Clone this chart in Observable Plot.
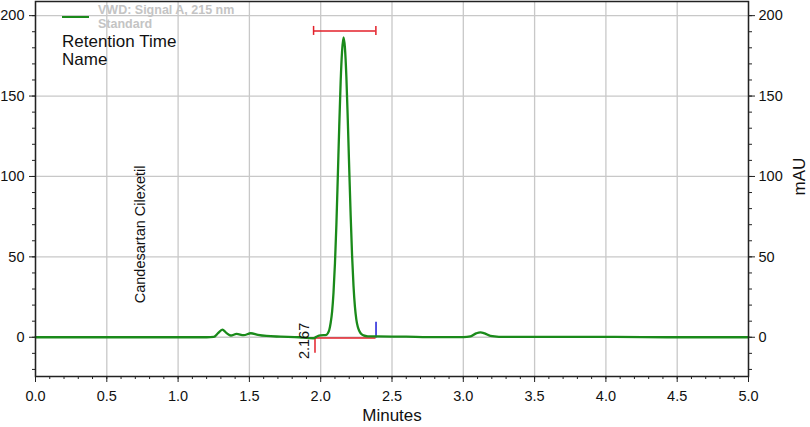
<!DOCTYPE html>
<html><head><meta charset="utf-8">
<script src="https://cdn.jsdelivr.net/npm/d3@7"></script>
<script src="https://cdn.jsdelivr.net/npm/@observablehq/plot@0.6"></script>
<style>
body{margin:0;background:#fff;font-family:"Liberation Sans",Arial,sans-serif;}
#wrap{position:relative;width:810px;height:427px;overflow:hidden;}
.lg{position:absolute;white-space:nowrap;}
</style></head><body><div id="wrap"></div>
<script>
// Chromatogram trace (minutes, mAU)
const times  = [0.00,0.50,1.00,1.20,1.25,1.28,1.31,1.34,1.37,1.41,1.46,1.51,1.56,1.62,1.72,1.85,1.92,1.95,1.98,2.00,2.04,2.05,2.06,2.07,2.08,2.09,2.10,2.11,2.12,2.13,2.14,2.15,2.16,2.17,2.18,2.19,2.20,2.21,2.22,2.23,2.24,2.25,2.26,2.27,2.28,2.30,2.33,2.40,2.60,2.75,3.00,3.05,3.09,3.12,3.15,3.19,3.25,3.50,4.00,4.50,5.00];
const signal = [0,0,0,0,0.2,2.5,4.8,2.6,1.1,2.1,1.3,2.5,1.5,0.8,0.4,0,-0.5,-0.6,0.8,1.2,1.5,2.5,4.5,9,16,28,46,70,100,131,159,178,186.5,180,162,135,105,76,51,32,19,11,6.5,4,2.5,1.2,0.6,0.5,0.4,0.1,0.1,0.5,2.4,3.1,2.4,0.8,0.3,0.2,0.2,0,0];

// Peak annotation
const peakRT = [2.167];
const peakBaseStart = [1.96];
const peakBaseEnd = [2.388];
const peakBaseLevel = [-0.4];
const startMarkerLow = [-10];
const endMarkerHigh = [9.3];
const windowStart = [1.95];
const windowEnd = [2.387];
const windowLevel = [190.5];
const windowCap = [2.8];

// Compound name label
const compoundNames = ["Candesartan Cilexetil"];
const nameTime = [0.734];
const nameLevel = [64];

// Ticks
const xMajor = [0,0.5,1,1.5,2,2.5,3,3.5,4,4.5,5];
const xMinor = [0,0.1,0.2,0.3,0.4,0.5,0.6,0.7,0.8,0.9,1,1.1,1.2,1.3,1.4,1.5,1.6,1.7,1.8,1.9,2,2.1,2.2,2.3,2.4,2.5,2.6,2.7,2.8,2.9,3,3.1,3.2,3.3,3.4,3.5,3.6,3.7,3.8,3.9,4,4.1,4.2,4.3,4.4,4.5,4.6,4.7,4.8,4.9,5];
const yMajor = [0,50,100,150,200];
const yMinor = [-20,-10,0,10,20,30,40,50,60,70,80,90,100,110,120,130,140,150,160,170,180,190,200];

const xLabel = "Minutes";
const yLabel = "mAU";
const legendSignal = ["VWD: Signal A, 215 nm", "Standard"];
const legendFields = ["Retention Time", "Name"];

const trace = times.map((t, i) => ({t, v: signal[i]}));
const peaks = peakRT.map((rt, i) => ({
  rt, s: peakBaseStart[i], e: peakBaseEnd[i], b: peakBaseLevel[i],
  lo: startMarkerLow[i], hi: endMarkerHigh[i],
  ws: windowStart[i], we: windowEnd[i], wl: windowLevel[i], wc: windowCap[i]
}));
const names = compoundNames.map((n, i) => ({n, t: nameTime[i], y: nameLevel[i]}));

const green = "#1a8a1a", red = "#e3202a", blue = "#1c1cd8";

const chart = Plot.plot({
  width: 810, height: 427,
  marginLeft: 35, marginRight: 62, marginTop: 1, marginBottom: 51,
  x: {domain: [0, 5]},
  y: {domain: [-24.4, 208.8]},
  style: {fontFamily: "'Liberation Sans', Arial, sans-serif", fontSize: "14.5px", color: "#222", background: "#fff"},
  marks: [
    Plot.gridX(xMajor, {stroke: "#c8c8c8", strokeOpacity: 1, strokeWidth: 1.3}),
    Plot.gridY(yMajor, {stroke: "#c8c8c8", strokeOpacity: 1, strokeWidth: 1.3}),
    Plot.axisX(xMajor, {tickSize: 6, tickPadding: 8, tickFormat: d3.format(".1f"), label: null, stroke: "#222", fill: "#111"}),
    Plot.axisX(xMinor, {tickSize: 3, tickFormat: () => "", label: null, stroke: "#222"}),
    Plot.axisY(yMajor, {anchor: "left", tickSize: 6, tickPadding: 5, label: null, stroke: "#222", fill: "#111"}),
    Plot.axisY(yMinor, {anchor: "left", tickSize: 3, tickFormat: () => "", label: null, stroke: "#222"}),
    Plot.axisY(yMajor, {anchor: "right", tickSize: 6, tickPadding: 4, label: null, stroke: "#222", fill: "#111"}),
    Plot.axisY(yMinor, {anchor: "right", tickSize: 3, tickFormat: () => "", label: null, stroke: "#222"}),
    // integration baseline and markers
    Plot.ruleY(peaks, {y: "b", x1: "s", x2: "e", stroke: red, strokeWidth: 1.5}),
    Plot.ruleX(peaks, {x: "s", y1: "b", y2: "lo", stroke: red, strokeWidth: 1.5}),
    Plot.ruleX(peaks, {x: "e", y1: "b", y2: "hi", stroke: blue, strokeWidth: 1.5}),
    // trace
    Plot.line(trace, {x: "t", y: "v", stroke: green, strokeWidth: 2.3, curve: "monotone-x"}),
    // window bracket
    Plot.ruleY(peaks, {y: "wl", x1: "ws", x2: "we", stroke: red, strokeWidth: 1.5}),
    Plot.ruleX(peaks, {x: "ws", y1: d => d.wl - d.wc, y2: d => d.wl + d.wc, stroke: red, strokeWidth: 1.5}),
    Plot.ruleX(peaks, {x: "we", y1: d => d.wl - d.wc, y2: d => d.wl + d.wc, stroke: red, strokeWidth: 1.5}),
    // labels
    Plot.text(peaks, {x: "s", y: "b", text: d => d3.format(".3f")(d.rt), rotate: -90, textAnchor: "middle", dx: -11, dy: 3, fill: "#111"}),
    Plot.text(names, {x: "t", y: "y", text: "n", rotate: -90, textAnchor: "middle", fill: "#111"}),
    Plot.text([xLabel], {frameAnchor: "bottom", text: d => d, lineAnchor: "bottom", dy: 44, fontSize: 17, fill: "#111"}),
    Plot.text([yLabel], {frameAnchor: "right", text: d => d, rotate: -90, textAnchor: "middle", dx: 51, dy: -12.5, fontSize: 17, fill: "#111"}),
    Plot.frame({stroke: "#222", strokeWidth: 1.5})
  ]
});

const wrap = document.getElementById("wrap");
wrap.appendChild(chart);

// Legend overlay
const mk = (style, text) => {
  const d = document.createElement("div");
  d.className = "lg";
  Object.assign(d.style, style);
  if (text != null) d.textContent = text;
  wrap.appendChild(d);
};
mk({left: "62px", top: "16px", width: "27px", height: "2.2px", background: green});
legendSignal.forEach((t, i) => mk({left: "98px", top: (4 + i * 13.5) + "px", fontSize: "12.5px", lineHeight: "13.5px", fontWeight: "bold", color: "#c4c4c4"}, t));
legendFields.forEach((t, i) => mk({left: "62px", top: (33 + i * 18) + "px", fontSize: "17px", lineHeight: "18px", color: "#111"}, t));
</script>
</body></html>
